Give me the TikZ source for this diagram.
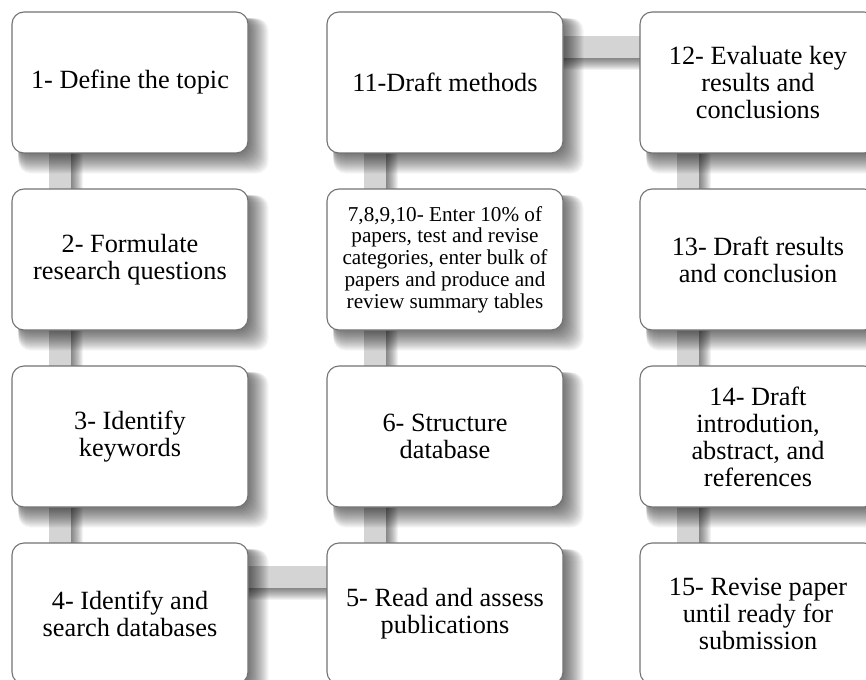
\documentclass[tikz,border=0pt]{standalone}
\usepackage{fontspec}
\setmainfont{Liberation Serif}
\usetikzlibrary{calc}
\pgfdeclarelayer{barlayer}
\pgfdeclarelayer{shadowlayer}
\pgfsetlayers{barlayer,shadowlayer,main}
\begin{document}
\begin{tikzpicture}[x=1pt,y=-1pt,
  stepbox/.style={draw=black!55, line width=1.1pt, fill=white, rounded corners=12pt,
    minimum width=236pt, minimum height=141pt, align=center, inner sep=4pt,
    font=\fontsize{26.3}{27}\selectfont},
  smallbox/.style={stepbox, font=\fontsize{21.2}{21.8}\selectfont},
  bar/.style={line width=22pt, draw=black!17},
  barshadow/.style={line width=22pt, draw=black, opacity=0.05},
  boxshadow/.style={fill=black, opacity=0.035, rounded corners=12pt}]
\useasboundingbox (0,0) rectangle (866,679);
\node[stepbox] (n1) at (130,82.5) {1- Define the topic};
\node[stepbox] (n2) at (130,259.5) {2- Formulate\\research questions};
\node[stepbox] (n3) at (130,436.5) {3- Identify\\keywords};
\node[stepbox] (n4) at (130,613.5) {4- Identify and\\search databases};
\node[stepbox] (n5) at (445,613.5) {5- Read and assess\\publications};
\node[stepbox] (n6) at (445,436.5) {6- Structure\\database};
\node[smallbox] (n7) at (445,259.5) {7,8,9,10- Enter 10\% of\\papers, test and revise\\categories, enter bulk of\\papers and produce and\\review summary tables};
\node[stepbox] (n11) at (445,82.5) {11-Draft methods};
\node[stepbox] (n12) at (758,82.5) {12- Evaluate key\\results and\\conclusions};
\node[stepbox] (n13) at (758,259.5) {13- Draft results\\and conclusion};
\node[stepbox] (n14) at (758,436.5) {14- Draft\\introdution,\\abstract, and\\references};
\node[stepbox] (n15) at (758,613.5) {15- Revise paper\\until ready for\\submission};
\begin{pgfonlayer}{barlayer}
  \foreach \a/\b/\dx/\dy in {n1/n4/-70/0, n4/n5/0/37, n5/n11/-70.5/0, n11/n12/0/35.5, n12/n15/-70.5/0}{
    \foreach \k in {1,...,12}{
      \draw[barshadow] ([shift={(\dx pt+\k pt,\dy pt-\k pt)}]\a.center) -- ([shift={(\dx pt+\k pt,\dy pt-\k pt)}]\b.center);
    }
    \draw[bar] ([shift={(\dx pt,\dy pt)}]\a.center) -- ([shift={(\dx pt,\dy pt)}]\b.center);
  }
\end{pgfonlayer}
\begin{pgfonlayer}{shadowlayer}
  \foreach \n in {n1,n2,n3,n4,n5,n6,n7,n11,n12,n13,n14,n15}{
    \foreach \k in {0,...,20}{
      \fill[boxshadow] ([shift={(7pt,-7pt)}]\n.north west) rectangle ([shift={(\k pt,-\k pt)}]\n.south east);
    }
  }
\end{pgfonlayer}
\end{tikzpicture}
\end{document}
